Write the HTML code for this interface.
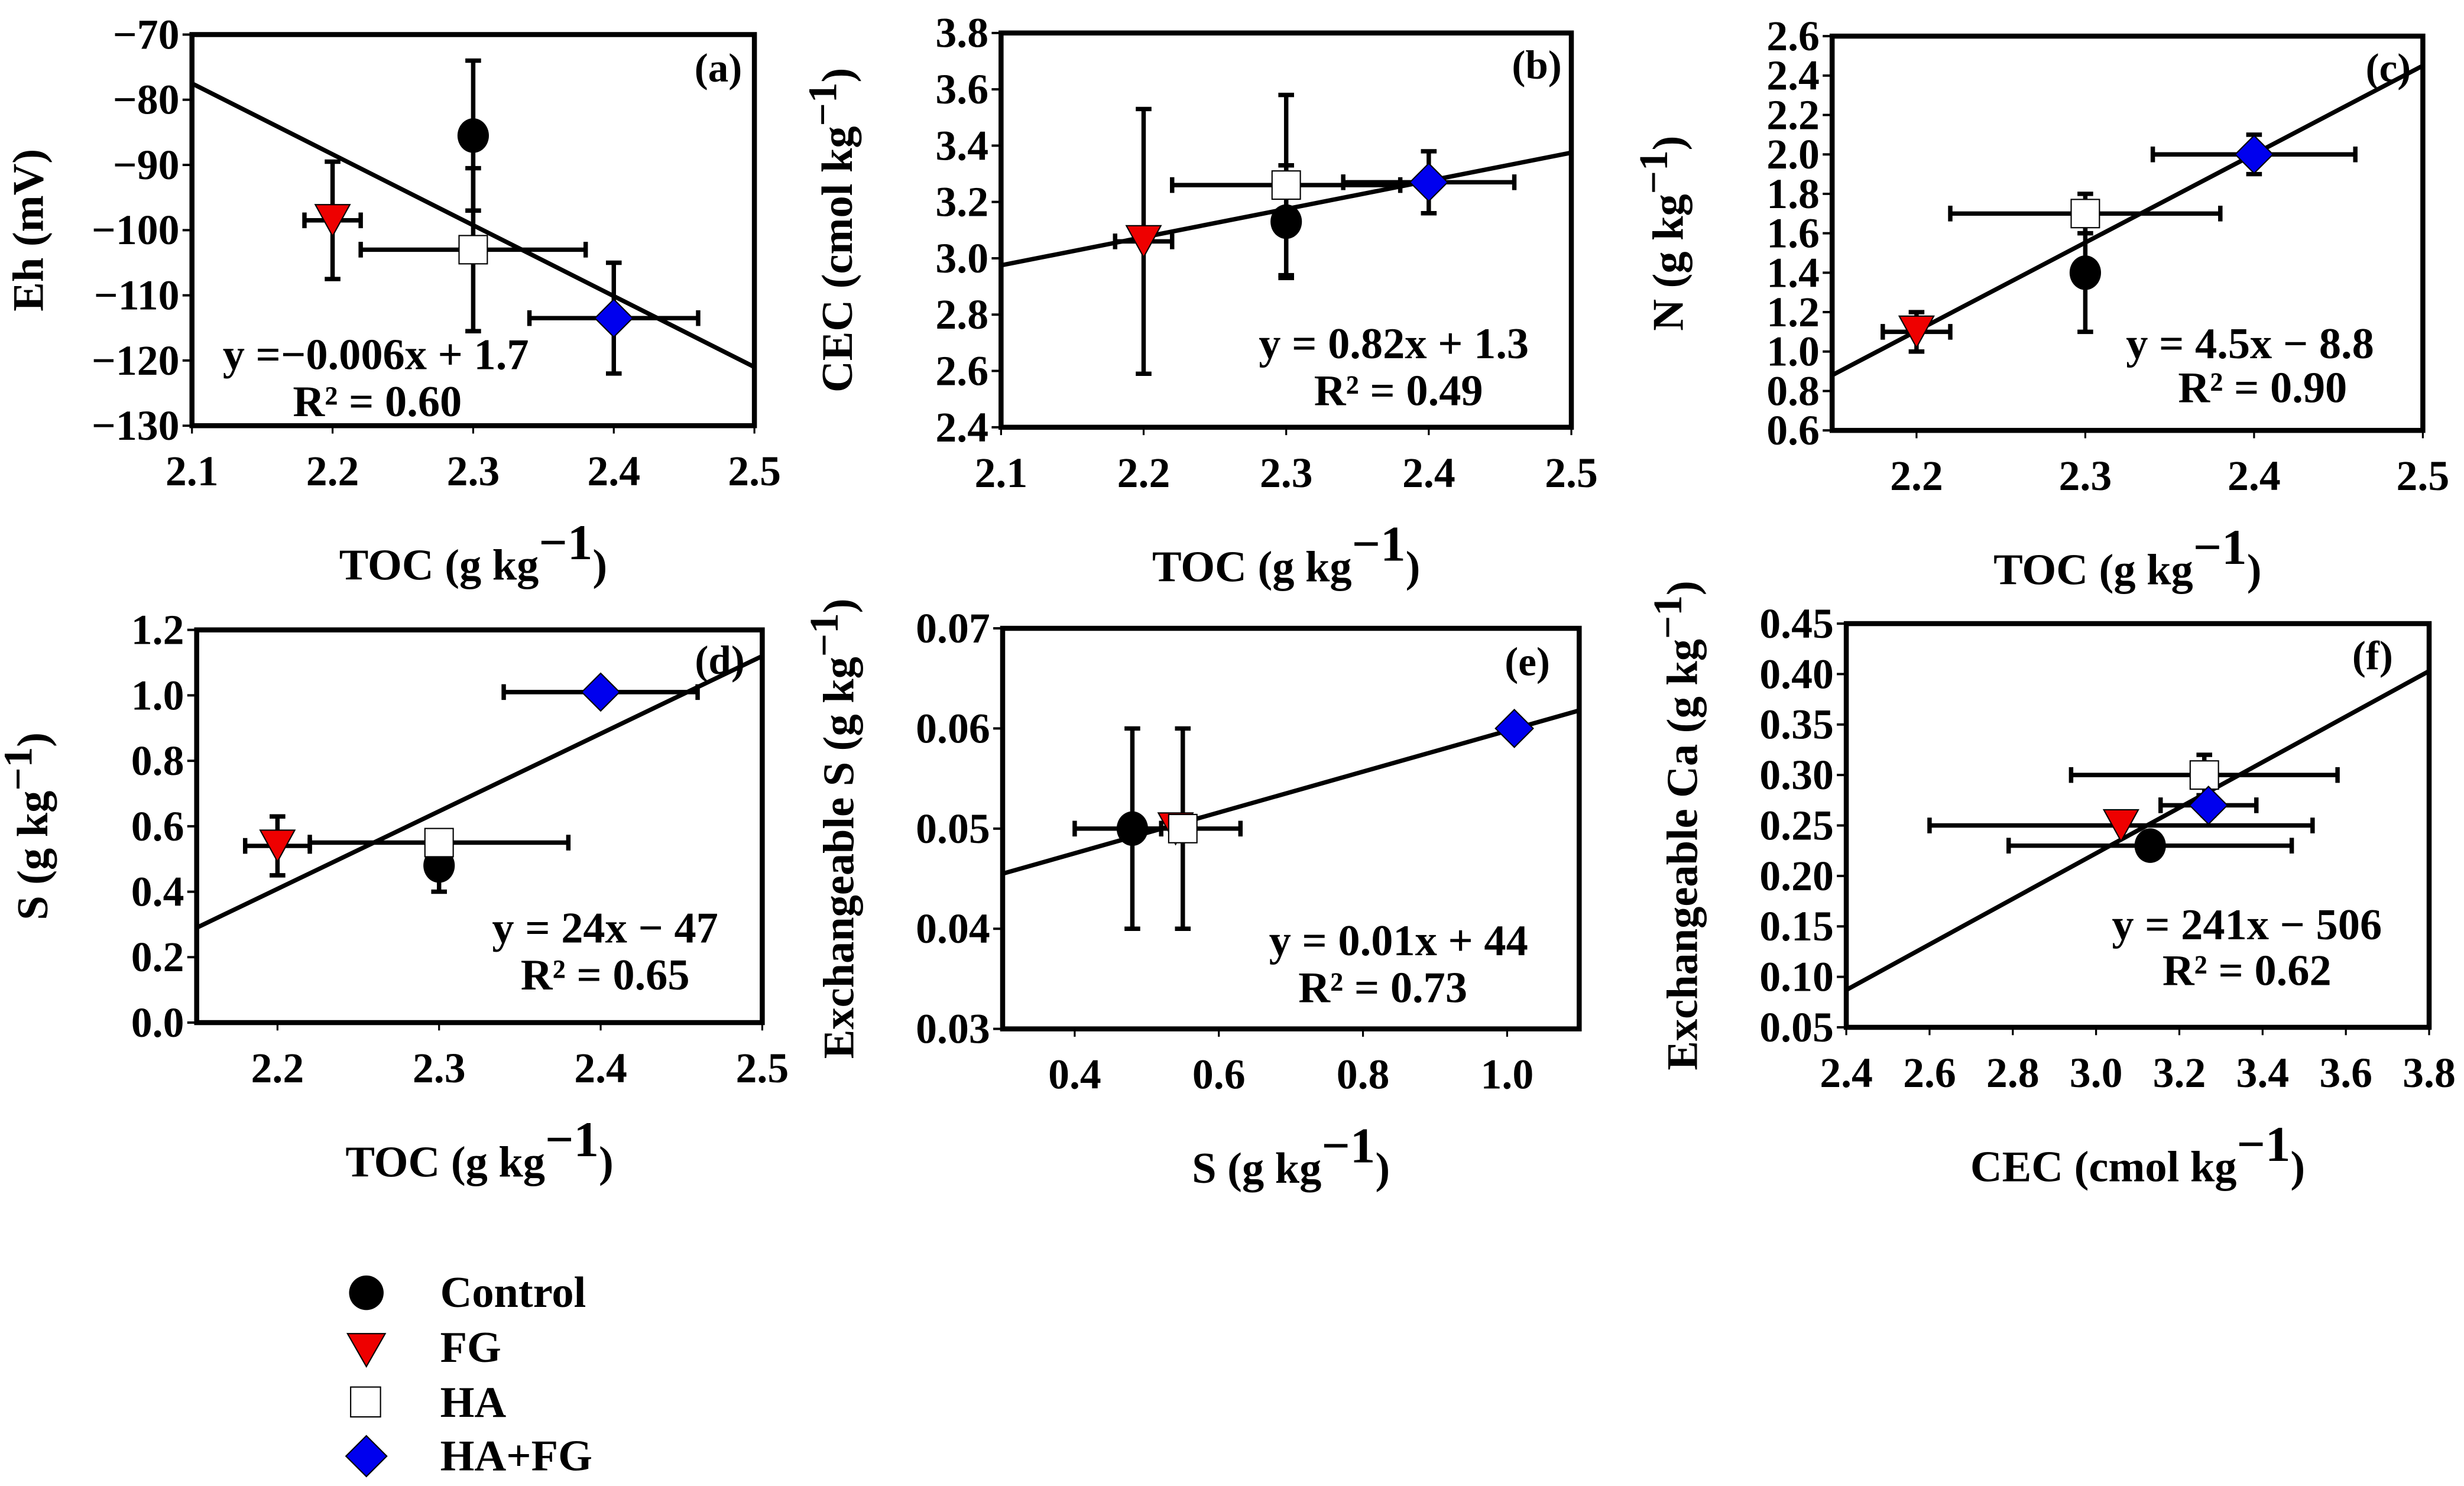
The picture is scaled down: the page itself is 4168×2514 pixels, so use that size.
<!DOCTYPE html>
<html><head><meta charset="utf-8"><style>
html,body{margin:0;padding:0;background:#fff;}
svg{display:block;font-family:"Liberation Serif",serif;font-weight:bold;}
</style></head><body>
<svg id="fig" width="4168" height="2514" viewBox="0 0 1568 946" xmlns="http://www.w3.org/2000/svg">
<rect x="0" y="0" width="1568" height="946" fill="#fff"/>
<g>
 <circle cx="233" cy="823" r="11" fill="#000"/>
 <text x="280" y="832" font-size="28">Control</text>
 <polygon points="221,849 245,849 233,870" fill="#e00" stroke="#000" stroke-width="0.8"/>
 <text x="280" y="867" font-size="28">FG</text>
 <rect x="223" y="883" width="19" height="19" fill="#fff" stroke="#000" stroke-width="0.8"/>
 <text x="280" y="902" font-size="28">HA</text>
 <polygon points="233,914 246,927 233,940 220,927" fill="#00e" stroke="#000" stroke-width="0.8"/>
 <text x="280" y="936" font-size="28">HA+FG</text>
</g>
</svg>
<script>
// ---------- data ----------
const series = ["control","fg","ha","hafg"];
// panel a: Eh vs TOC
const aX = [2.3, 2.2, 2.3, 2.4];
const aY = [-85.5, -98.5, -103, -113.5];
const aXerr = [0, 0.02, 0.08, 0.06];
const aYerr = [11.5, 9, 12.5, 8.5];
const aFit = [-77.5, -121];
const aXt = [2.1,2.2,2.3,2.4,2.5];
const aYt = [-70,-80,-90,-100,-110,-120,-130];
// panel b: CEC vs TOC
const bX = [2.3, 2.2, 2.3, 2.4];
const bY = [3.13, 3.06, 3.26, 3.27];
const bXerr = [0, 0.02, 0.08, 0.06];
const bYerr = [0.2, 0.47, 0.32, 0.11];
const bFit = [2.975, 3.375];
const bXt = [2.1,2.2,2.3,2.4,2.5];
const bYt = [2.4,2.6,2.8,3.0,3.2,3.4,3.6,3.8];
// panel c: N vs TOC
const cX = [2.3, 2.2, 2.3, 2.4];
const cY = [1.4, 1.1, 1.7, 2.0];
const cXerr = [0, 0.02, 0.08, 0.06];
const cYerr = [0.3, 0.1, 0.1, 0.1];
const cFit = [0.88, 2.45];
const cXt = [2.2,2.3,2.4,2.5];
const cYt = [0.6,0.8,1.0,1.2,1.4,1.6,1.8,2.0,2.2,2.4,2.6];
// panel d: S vs TOC
const dX = [2.3, 2.2, 2.3, 2.4];
const dY = [0.48, 0.54, 0.55, 1.01];
const dXerr = [0, 0.02, 0.08, 0.06];
const dYerr = [0.08, 0.09, 0.02, 0];
const dFit = [0.29, 1.12];
const dXt = [2.2,2.3,2.4,2.5];
const dYt = [0.0,0.2,0.4,0.6,0.8,1.0,1.2];
// panel e: Exch S vs S
const eX = [0.48, 0.54, 0.55, 1.01];
const eY = [0.05, 0.05, 0.05, 0.06];
const eXerr = [0.08, 0.02, 0.08, 0];
const eYerr = [0.01, 0, 0.01, 0];
const eFit = [0.0455, 0.0618];
const eXt = [0.4,0.6,0.8,1.0];
const eYt = [0.03,0.04,0.05,0.06,0.07];
// panel f: Exch Ca vs CEC
const fX = [3.13, 3.06, 3.26, 3.27];
const fY = [0.23, 0.25, 0.30, 0.27];
const fXerr = [0.34, 0.46, 0.32, 0.115];
const fYerr = [0, 0, 0.02, 0.01];
const fFit = [0.087, 0.403];
const fXt = [2.4,2.6,2.8,3.0,3.2,3.4,3.6,3.8];
const fYt = [0.05,0.10,0.15,0.20,0.25,0.30,0.35,0.40,0.45];

const NS="http://www.w3.org/2000/svg";
const svg=document.getElementById('fig');
function mk(tag,attrs,parent){const e=document.createElementNS(NS,tag);for(const k in attrs)e.setAttribute(k,attrs[k]);(parent||svg).appendChild(e);return e;}

const panels=[
 {id:'a',box:[122,480,22,271],xd:[2.1,2.5],yd:[-130,-70],X:aX,Y:aY,XE:aXerr,YE:aYerr,fit:aFit,xt:aXt,yt:aYt,xf:1,yf:0,
  ytitle:'Eh (mV)',xtitle:'TOC',eq:['y =−0.006x + 1.7','R² = 0.60'],eqx:[239,240],eqy:[235,265],lab:[457,52]},
 {id:'b',box:[637,1000,21,272],xd:[2.1,2.5],yd:[2.4,3.8],X:bX,Y:bY,XE:bXerr,YE:bYerr,fit:bFit,xt:bXt,yt:bYt,xf:1,yf:1,
  ytitle:'CEC (cmol kg',xtitle:'TOC',eq:['y = 0.82x + 1.3','R² = 0.49'],eqx:[887,890],eqy:[228,258],lab:[978,50]},
 {id:'c',box:[1166,1542,23,274],xd:[2.15,2.5],yd:[0.6,2.6],X:cX,Y:cY,XE:cXerr,YE:cYerr,fit:cFit,xt:cXt,yt:cYt,xf:1,yf:1,
  ytitle:'N (g kg',xtitle:'TOC',eq:['y = 4.5x − 8.8','R² = 0.90'],eqx:[1432,1440],eqy:[228,256],lab:[1520,52]},
 {id:'d',box:[125,485,401,651],xd:[2.15,2.5],yd:[0,1.2],X:dX,Y:dY,XE:dXerr,YE:dYerr,fit:dFit,xt:dXt,yt:dYt,xf:1,yf:1,
  ytitle:'S (g kg',xtitle:'TOC',eq:['y = 24x − 47','R² = 0.65'],eqx:[385,385],eqy:[600,630],lab:[458,429]},
 {id:'e',box:[638,1005,400,655],xd:[0.3,1.1],yd:[0.03,0.07],X:eX,Y:eY,XE:eXerr,YE:eYerr,fit:eFit,xt:eXt,yt:eYt,xf:1,yf:2,
  ytitle:'Exchangeable S (g kg',xtitle:'S',eq:['y = 0.01x + 44','R² = 0.73'],eqx:[890,880],eqy:[608,638],lab:[972,430]},
 {id:'f',box:[1175,1546,397,654],xd:[2.4,3.8],yd:[0.05,0.45],X:fX,Y:fY,XE:fXerr,YE:fYerr,fit:fFit,xt:fXt,yt:fYt,xf:1,yf:2,
  ytitle:'Exchangeable Ca (g kg',xtitle:'CEC',cmol:true,eq:['y = 241x − 506','R² = 0.62'],eqx:[1430,1430],eqy:[598,627],lab:[1510,426]}
];
function fmt(v,d){let s=v.toFixed(d);if(v<0)s='−'+(-v).toFixed(d);return s;}

panels.forEach(p=>{
 const [L,R,T,B]=p.box;
 const sx=v=>L+(v-p.xd[0])/(p.xd[1]-p.xd[0])*(R-L);
 const sy=v=>B-(v-p.yd[0])/(p.yd[1]-p.yd[0])*(B-T);
 const g=mk('g',{});
 
 
 const clip=mk('clipPath',{id:'clip'+p.id},g);mk('rect',{x:L,y:T,width:R-L,height:B-T},clip);
 p.yt.forEach(v=>{
  const y=sy(v);
  mk('line',{x1:L-6,x2:L,y1:y,y2:y,stroke:'#000','stroke-width':1.5},g);
  const lb=mk('text',{x:L-8,y:y+9,'font-size':27,'text-anchor':'end'},g);
  lb.textContent=fmt(v,p.yf);
  
  
 });
 p.xt.forEach(v=>{
  const x=sx(v);
  mk('line',{x1:x,x2:x,y1:B,y2:B+5,stroke:'#000','stroke-width':1.2},g);
  const lb=mk('text',{x:x,y:B+38,'font-size':27,'text-anchor':'middle'},g);
  lb.textContent=fmt(v,p.xf);
  
  
 });
 const fl=mk('line',{x1:L,y1:sy(p.fit[0]),x2:R,y2:sy(p.fit[1]),stroke:'#000','stroke-width':2.8,'clip-path':'url(#clip'+p.id+')'},g);
 
 
 const eg=mk('g',{stroke:'#000','stroke-width':2.8},g);
 p.X.forEach((xv,i)=>{
  const x=sx(xv),y=sy(p.Y[i]);
  if(p.YE[i]>0){const y1=sy(p.Y[i]+p.YE[i]),y2=sy(p.Y[i]-p.YE[i]);
   mk('line',{x1:x,x2:x,y1:y1,y2:y2},eg);mk('line',{x1:x-5,x2:x+5,y1:y1,y2:y1},eg);mk('line',{x1:x-5,x2:x+5,y1:y2,y2:y2},eg);}
  if(p.XE[i]>0){const x1=sx(xv-p.XE[i]),x2=sx(xv+p.XE[i]);
   mk('line',{x1:x1,x2:x2,y1:y,y2:y},eg);mk('line',{x1:x1,x2:x1,y1:y-5,y2:y+5},eg);mk('line',{x1:x2,x2:x2,y1:y-5,y2:y+5},eg);}
 });
 [0,1,2,3].forEach(i=>{
  const x=sx(p.X[i]),y=sy(p.Y[i]);let m;
  if(i===0)m=mk('ellipse',{cx:x,cy:y,rx:10,ry:11,fill:'#000'},g);
  if(i===1)m=mk('polygon',{points:`${x-11},${y-10} ${x+11},${y-10} ${x},${y+10}`,fill:'#e00',stroke:'#000','stroke-width':0.8},g);
  if(i===2)m=mk('rect',{x:x-9,y:y-9,width:18,height:18,fill:'#fff',stroke:'#000','stroke-width':0.8},g);
  if(i===3)m=mk('polygon',{points:`${x},${y-12} ${x+12},${y} ${x},${y+12} ${x-12},${y}`,fill:'#00e',stroke:'#000','stroke-width':0.8},g);
  
  
 });
 mk('rect',{x:L,y:T,width:R-L,height:B-T,fill:'none',stroke:'#000','stroke-width':3.2},g);
 p.eq.forEach((s,k)=>{const t=mk('text',{x:p.eqx[k],y:p.eqy[k],'font-size':28,'text-anchor':'middle'},g);t.textContent=s;
  
  });
 const lab=mk('text',{x:p.lab[0],y:p.lab[1],'font-size':26,'text-anchor':'middle'},g);lab.textContent='('+p.id+')';
 
 
 const xt=mk('text',{x:(L+R)/2,y:B+98,'font-size':28,'text-anchor':'middle'},g);
 
 
 xt.innerHTML=p.xtitle+' ('+(p.cmol?'cmol ':'g ')+'kg<tspan dy="-13" font-size="32">−1</tspan><tspan dy="13">)</tspan>';
 const cx=L-95,cy=(T+B)/2;
 const yt=mk('text',{x:cx,y:cy,'font-size':28,'text-anchor':'middle',transform:`rotate(-90 ${cx} ${cy})`},g);
 
 
 if(p.id==='a') yt.textContent=p.ytitle;
 else yt.innerHTML=p.ytitle+'<tspan dy="-10" font-size="26">−1</tspan><tspan dy="10">)</tspan>';
});
</script>
</body></html>
